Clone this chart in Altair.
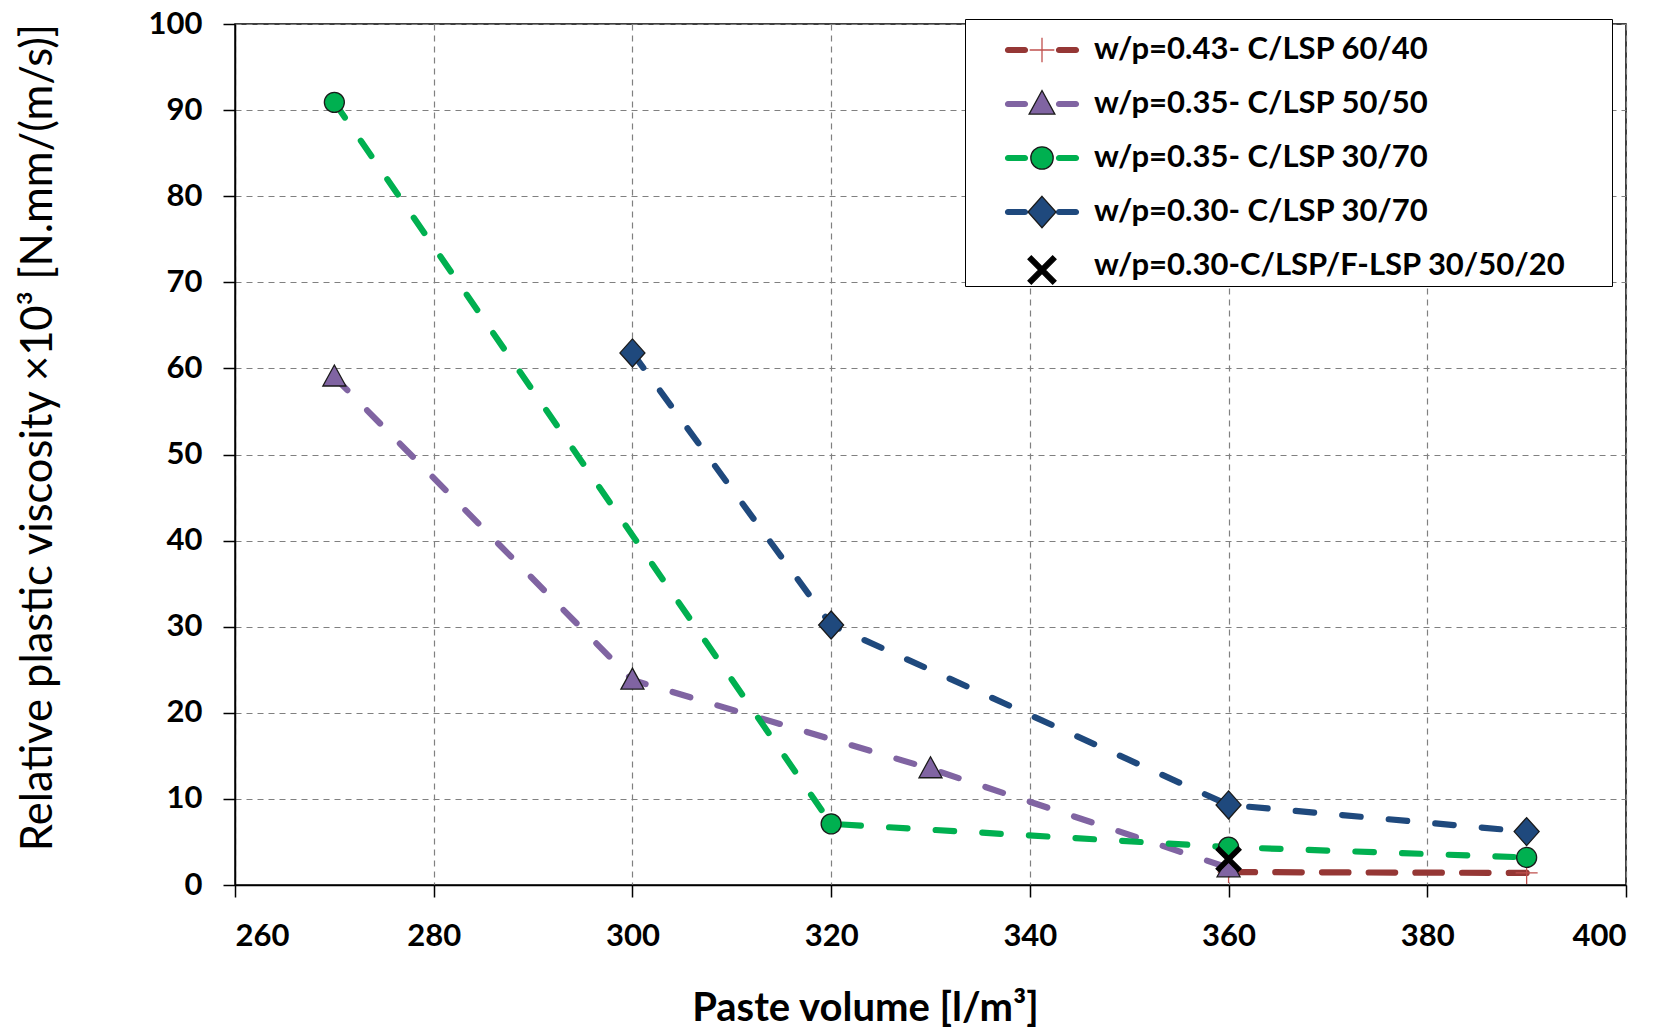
import altair as alt
import pandas as pd

# ---------------- data ----------------
series = [
    "w/p=0.43- C/LSP 60/40",
    "w/p=0.35- C/LSP 50/50",
    "w/p=0.35- C/LSP 30/70",
    "w/p=0.30- C/LSP 30/70",
    "w/p=0.30-C/LSP/F-LSP 30/50/20",
]
x_s1 = [360, 390]
y_s1 = [1.5, 1.4]
x_s2 = [270, 300, 330, 360]
y_s2 = [59.0, 23.8, 13.5, 2.0]
x_s3 = [270, 320, 360, 390]
y_s3 = [90.9, 7.1, 4.4, 3.2]
x_s4 = [300, 320, 360, 390]
y_s4 = [61.8, 30.2, 9.3, 6.2]
x_s5 = [360]
y_s5 = [3.0]

x_ticks = [260, 280, 300, 320, 340, 360, 380, 400]
y_ticks = [0, 10, 20, 30, 40, 50, 60, 70, 80, 90, 100]

rows = []
for name, xs, ys in zip(series, [x_s1, x_s2, x_s3, x_s4, x_s5], [y_s1, y_s2, y_s3, y_s4, y_s5]):
    for xv, yv in zip(xs, ys):
        rows.append({"series": name, "x": xv, "y": yv})
df = pd.DataFrame(rows)

# ---------------- styles ----------------
line_colors = ["#953735", "#8064A2", "#00B050", "#1F497D", "#000000"]
fill_colors = ["#C0504D", "#8064A2", "#00B050", "#1F497D", "#000000"]
edge_colors = ["#C0504D", "#1a1a1a", "#1a1a1a", "#1a1a1a", "#000000"]
dashes = [[26.5, 20.2], [18.5, 28.2], [18.5, 28.2], [18.5, 28.2], [18.5, 28.2]]
LINE_W = 6.2


def s(v, u):
    return f"{v / u:.4f}"


def poly(pts, u):
    return "M" + "L".join(f"{s(a, u)},{s(b, u)}" for a, b in pts) + "Z"


def circle(r, u):
    return (f"M{s(-r, u)},0A{s(r, u)},{s(r, u)},0,1,1,{s(r, u)},0"
            f"A{s(r, u)},{s(r, u)},0,1,1,{s(-r, u)},0Z")


def capsule(x1, x2, h, u):
    # a horizontal bar with round ends, from x1 to x2, half-thickness h (px)
    return (f"M{s(x1, u)},{s(-h, u)}L{s(x2, u)},{s(-h, u)}"
            f"A{s(h, u)},{s(h, u)},0,0,1,{s(x2, u)},{s(h, u)}"
            f"L{s(x1, u)},{s(h, u)}"
            f"A{s(h, u)},{s(h, u)},0,0,1,{s(x1, u)},{s(-h, u)}Z")


def marker_paths(u):
    plus = f"M{s(-11, u)},0L{s(11, u)},0M0,{s(-11, u)}L0,{s(11, u)}"
    tri = poly([(0, -12), (11.5, 9), (-11.5, 9)], u)
    circ = circle(10, u)
    diam = poly([(0, -14), (12.5, 0), (0, 14), (-12.5, 0)], u)
    d = 1.5
    a = 11
    x1 = poly([(-a + d, -a - d), (a + d, a - d), (a - d, a + d), (-a - d, -a + d)], u)
    x2 = poly([(a + d, -a + d), (-a + d, a + d), (-a - d, a - d), (a - d, -a - d)], u)
    return [plus, tri, circ, diam, x1 + x2]


PLOT_SIZE = 625      # unit = 12.5 px
LEG_SIZE = 2500      # unit = 25 px
plot_paths = marker_paths(12.5)
leg_marker_paths = marker_paths(25 / 1.12)
seg = capsule(-34, -17, LINE_W / 2, 25) + capsule(17, 34, LINE_W / 2, 25)
leg_line_paths = [seg, seg, seg, seg, "M0,0"]

FONT = "Lato"

x_enc = alt.X(
    "x:Q",
    scale=alt.Scale(domain=[260, 400], nice=False, zero=False),
    axis=alt.Axis(
        values=x_ticks, title="Paste volume [l/m³]", grid=True,
        labelPadding=24, titleX=630, titleY=123, titleBaseline="middle",
        titleAlign="center", titleFontSize=40, titleFontWeight="bold",
    ),
)
y_enc = alt.Y(
    "y:Q",
    scale=alt.Scale(domain=[0, 100], nice=False),
    axis=alt.Axis(
        values=y_ticks, title="Relative plastic viscosity ×10³ [N.mm/(m/s)]", grid=True,
        labelPadding=21, titleX=-197, titleY=413, titleAngle=-90,
        titleBaseline="middle", titleAlign="center", titleFontSize=43.5,
        titleFontWeight="normal",
    ),
)

base = alt.Chart(df)

lines = base.transform_filter(alt.datum.series != series[4]).mark_line(
    strokeWidth=LINE_W, strokeCap="round"
).encode(
    x=x_enc, y=y_enc,
    color=alt.Color("series:N", scale=alt.Scale(domain=series, range=line_colors), legend=None),
    strokeDash=alt.StrokeDash("series:N", scale=alt.Scale(domain=series, range=dashes), legend=None),
    detail="series:N",
)

points = base.mark_point(filled=True, size=PLOT_SIZE, strokeWidth=1.3, opacity=1).encode(
    x=x_enc, y=y_enc,
    shape=alt.Shape("series:N", scale=alt.Scale(domain=series, range=plot_paths), legend=None),
    fill=alt.Fill("series:N", scale=alt.Scale(domain=series, range=fill_colors), legend=None),
    stroke=alt.Stroke("series:N", scale=alt.Scale(domain=series, range=edge_colors), legend=None),
)

# the legend title is an invisible spacer that gives the box its right margin
common_leg = dict(
    orient="none", legendX=730, legendY=-5, padding=5,
    symbolSize=LEG_SIZE, symbolOffset=46, labelOffset=26, rowPadding=13,
    labelFont=FONT, labelFontSize=31, labelFontWeight="bold",
    labelLimit=1000, symbolOpacity=1, symbolStrokeWidth=1.3,
    title="M", titleOrient="right", titleFontSize=10, titlePadding=32,
    titleColor="transparent",
)

leg1 = alt.Legend(fillColor="white", strokeColor="black", labelColor="black",
                  zindex=1, **common_leg)
leg2 = alt.Legend(fillColor="transparent", strokeColor="transparent", labelColor="transparent",
                  zindex=2, **common_leg)

legend_lines = base.transform_filter("false").mark_point(
    filled=True, size=LEG_SIZE, strokeWidth=1.3, opacity=1
).encode(
    x=x_enc, y=y_enc,
    shape=alt.Shape("series:N", scale=alt.Scale(domain=series, range=leg_line_paths), legend=leg1),
    fill=alt.Fill("series:N", scale=alt.Scale(domain=series, range=line_colors), legend=leg1),
)

legend_marks = base.transform_filter("false").mark_point(
    filled=True, size=LEG_SIZE, strokeWidth=1.3, opacity=1
).encode(
    x=x_enc, y=y_enc,
    shape=alt.Shape("series:N", scale=alt.Scale(domain=series, range=leg_marker_paths), legend=leg2),
    fill=alt.Fill("series:N", scale=alt.Scale(domain=series, range=fill_colors), legend=leg2),
    stroke=alt.Stroke("series:N", scale=alt.Scale(domain=series, range=edge_colors), legend=leg2),
)

chart = alt.layer(lines, points, legend_lines, legend_marks).resolve_scale(
    color="independent", fill="independent", stroke="independent",
    shape="independent", strokeDash="independent",
).properties(
    width=1391, height=861,
    padding={"left": 235, "top": 24, "right": 37, "bottom": 144},
    autosize=alt.AutoSizeParams(type="none"),
).configure_view(
    stroke="black", strokeWidth=1.5
).configure_axis(
    labelFont=FONT, labelFontSize=31, labelFontWeight="bold", labelColor="black",
    titleFont=FONT, titleColor="black",
    tickColor="black", tickSize=12, tickWidth=1.5,
    domainColor="black", domainWidth=1.5,
    gridColor="#808080", gridDash=[6, 5], gridWidth=1.2,
)

chart.save("out.html", embed_options={"renderer": "svg", "actions": False})
